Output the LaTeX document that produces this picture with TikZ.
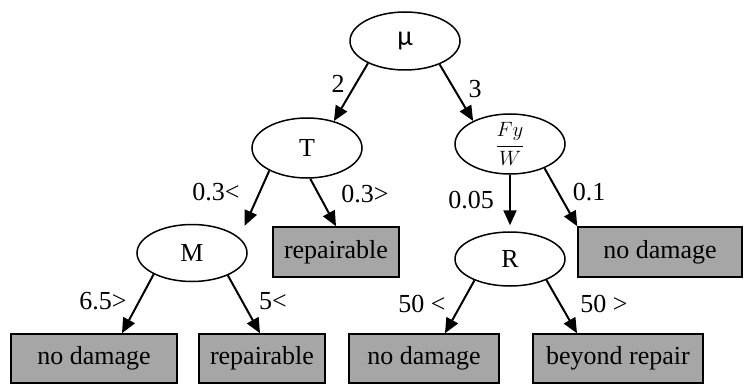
\documentclass[tikz,border=0pt]{standalone}
\usepackage{fontspec}
\setmainfont{Liberation Serif}
\newfontfamily\mufont{Carlito}
\usetikzlibrary{shapes.geometric,arrows.meta}
\definecolor{leafgray}{HTML}{A6A6A6}
\begin{document}
\begin{tikzpicture}[x=1pt,y=-1pt,
  every node/.style={font=\fontsize{26}{30}\selectfont},
  oval/.style={draw, ellipse, line width=1.5pt, minimum width=110pt, inner sep=0pt},
  leaf/.style={draw, fill=leafgray, line width=1.5pt, inner sep=0pt, minimum height=49pt},
  edge/.style={line width=2pt, -{Triangle[length=15pt,width=13pt]}},
  lab/.style={inner sep=0pt}]
\useasboundingbox (0,0) rectangle (747,385);
% decision nodes
\node[oval, minimum height=58pt] (mu) at (405,41) {\mufont\fontsize{28}{30}\selectfont μ};
\node[oval, minimum height=60pt] (T) at (307,148) {T};
\node[oval, minimum height=60pt, font=\fontsize{22}{26}\selectfont] (F) at (510,144) {$\displaystyle\frac{Fy}{W}$};
\node[oval, minimum height=57pt] (M) at (192,253) {M};
\node[oval, minimum height=54pt] (R) at (510,259) {R};
% leaves
\node[leaf, minimum width=126pt, minimum height=50pt] (rep1) at (336,252) {repairable};
\node[leaf, minimum width=164pt, minimum height=50pt] (nd1) at (660,252) {no damage};
\node[leaf, minimum width=166pt] (nd2) at (94,358.5) {no damage};
\node[leaf, minimum width=126pt] (rep2) at (262,358.5) {repairable};
\node[leaf, minimum width=150pt] (nd3) at (424,358.5) {no damage};
\node[leaf, minimum width=170pt] (br) at (618,358.5) {beyond repair};
% edges
\draw[edge] (mu.211) -- (T.45);
\draw[edge] (mu.326) -- (F.148);
\draw[edge, shorten >=13pt] (T.211) -- (M.18);
\draw[edge] (T.276) -- (rep1.north);
\draw[edge, shorten >=6pt] (F.south) -- (R.north);
\draw[edge] (F.325) -- (nd1.north west);
\draw[edge] (M.209) -- ([xshift=28pt]nd2.north);
\draw[edge] (M.328) -- ([xshift=-2pt]rep2.north);
\draw[edge] (R.211) -- ([xshift=21pt]nd3.north);
\draw[edge] (R.330) -- ([xshift=-41pt]br.north);
% labels
\node[lab] (l2) at (338,84) {2};
\node[lab] (l3) at (475,89) {3};
\node[lab] (l03a) at (216,192) {0.3<};
\node[lab] (l03b) at (365,194) {0.3>};
\node[lab] (l005) at (471,200) {0.05};
\node[lab] (l01) at (589,192) {0.1};
\node[lab] (l65) at (103,301) {6.5>};
\node[lab] (l5) at (273,301) {5<};
\node[lab] (l50a) at (422,304) {50 <};
\node[lab] (l50b) at (604,304) {50 >};
\end{tikzpicture}
\end{document}
